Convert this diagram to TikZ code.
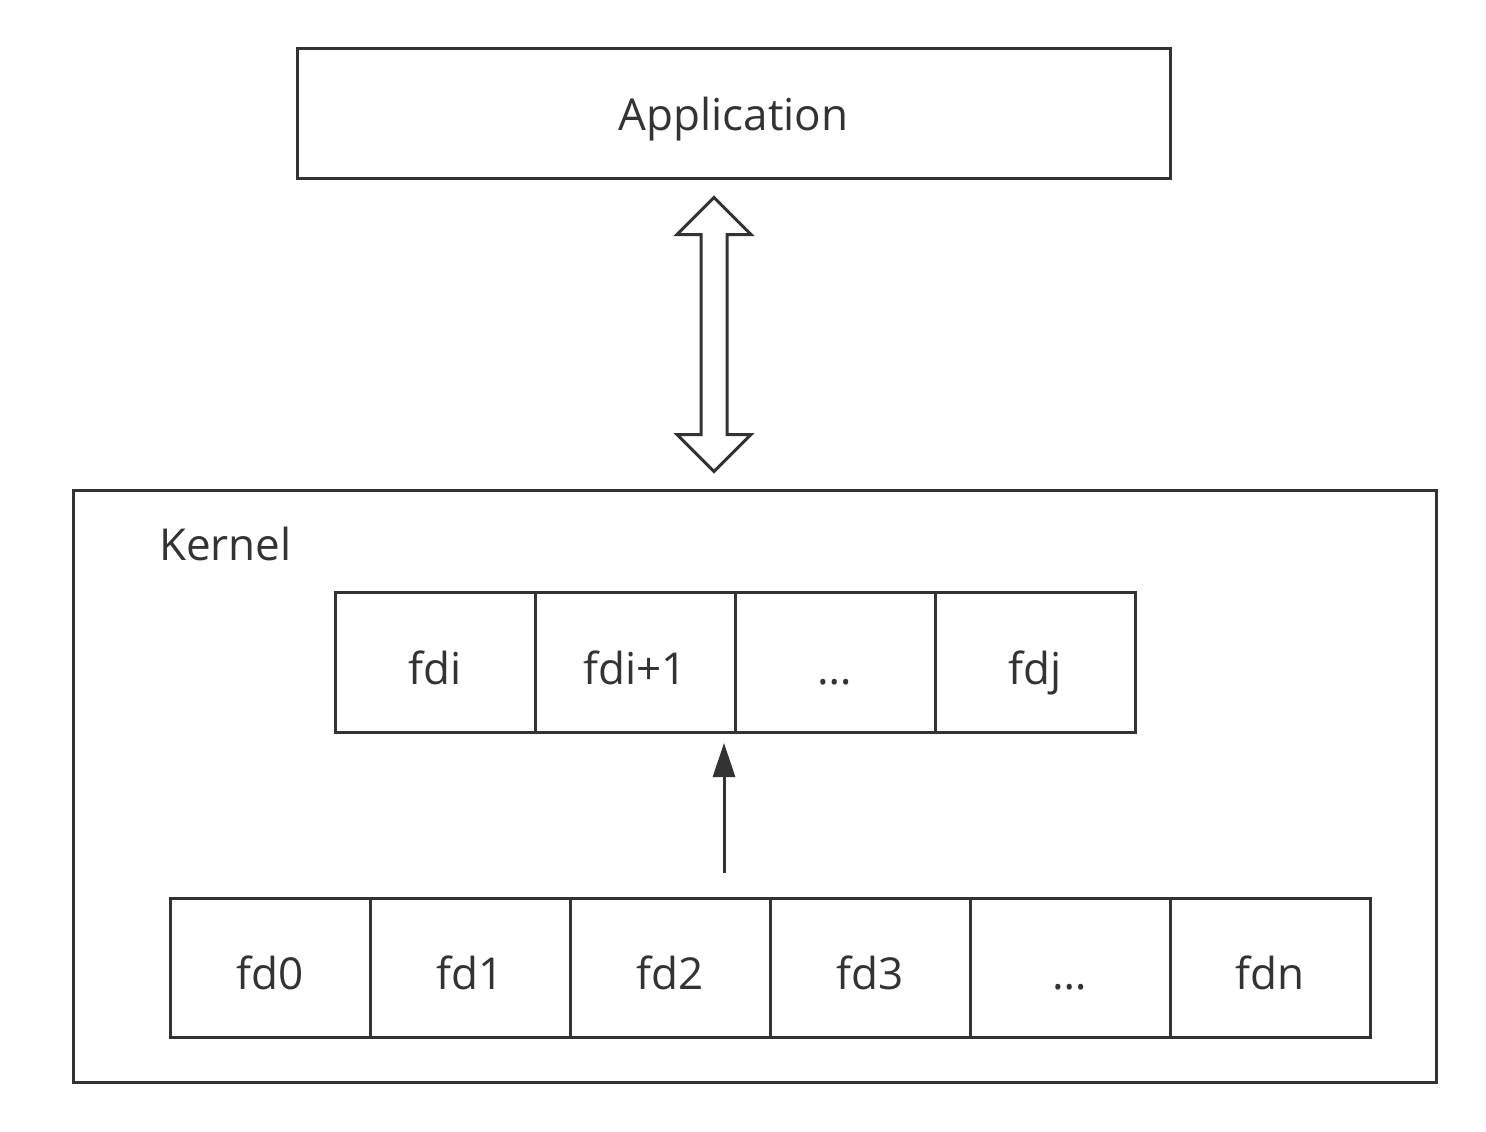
\documentclass[tikz,border=0pt]{standalone}
\usepackage{fontspec}
\setmainfont{Open Sans}
\usetikzlibrary{shapes.arrows}
\usetikzlibrary{arrows.meta}
\definecolor{linegray}{HTML}{333333}

\tikzset{
  box/.style={draw=linegray, line width=3pt, inner sep=0pt,
    font=\fontsize{44}{52}\selectfont, text=linegray, text depth=0pt},
  cell/.style={box, minimum width=200pt, minimum height=140pt, text height=44pt}
}

\begin{document}
\begin{tikzpicture}[x=1pt,y=-1pt]
\useasboundingbox (0,0) rectangle (1486,1132);

\node[box, minimum width=873pt, minimum height=129pt, text height=33pt] (app) at (733.5,113.5) {Application};

\node[box, minimum width=1363pt, minimum height=592pt] (kernel) at (754.5,786) {};
\node[anchor=base west, inner sep=0pt, text=linegray,
      font=\fontsize{44}{52}\selectfont] (klabel) at (159,560) {Kernel};

% ready list
\node[cell] (fdi)  at (435,662) {fdi};
\node[cell] (fdii) at (635,662) {fdi+1};
\node[cell] (rdots) at (835,662) {…};
\node[cell] (fdj)  at (1035,662) {fdj};

% all descriptors
\node[cell, minimum height=139pt] (fd0) at (270,967.5) {fd0};
\node[cell, minimum height=139pt] (fd1) at (470,967.5) {fd1};
\node[cell, minimum height=139pt] (fd2) at (670,967.5) {fd2};
\node[cell, minimum height=139pt] (fd3) at (870,967.5) {fd3};
\node[cell, minimum height=139pt] (adots) at (1070,967.5) {…};
\node[cell, minimum height=139pt] (fdn) at (1270,967.5) {fdn};

\node[double arrow, draw=linegray, fill=white, line width=3pt, rotate=90,
      inner sep=11.5pt, minimum height=274pt, minimum width=71pt,
      double arrow head extend=24pt] (link) at (714,334.5) {};

\coordinate (from) at (724,873);
\coordinate (to) at (724,743);
\draw[linegray, line width=3pt, -{Triangle[length=34pt,width=22pt]}] (from) -- (to);
\end{tikzpicture}
\end{document}
